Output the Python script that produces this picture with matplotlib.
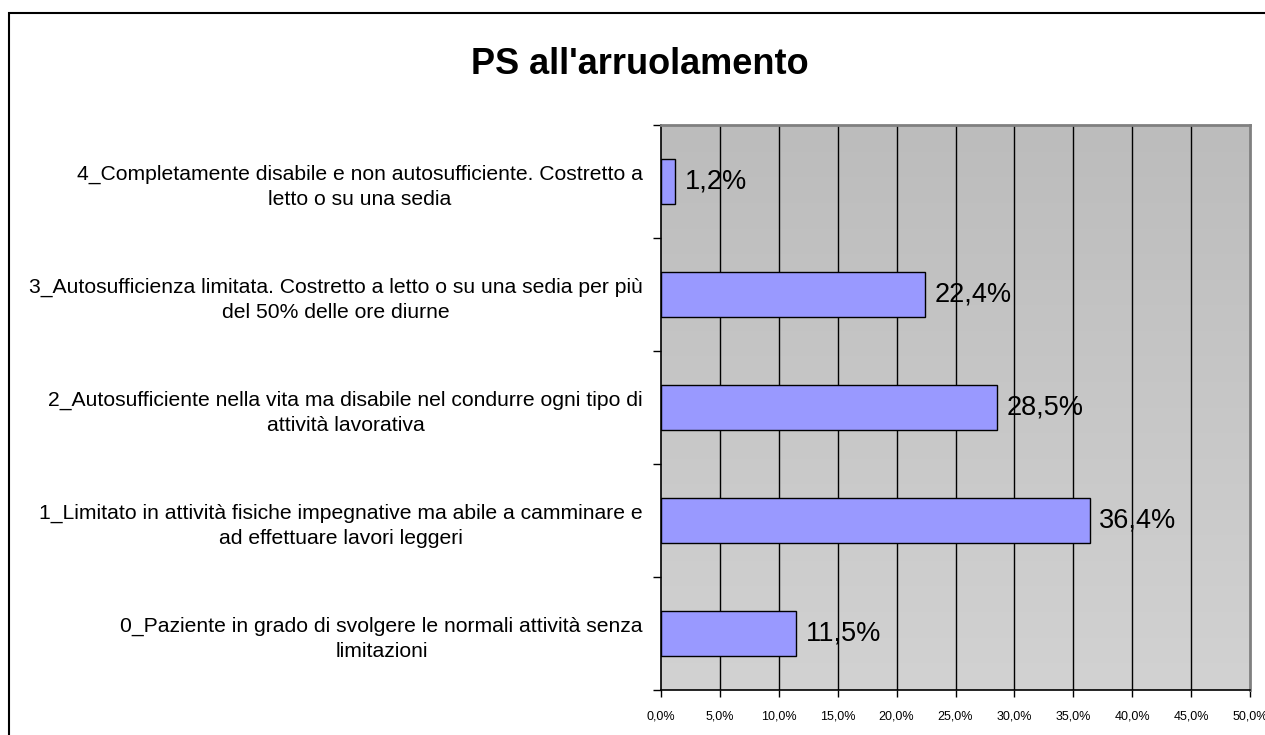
import matplotlib
matplotlib.use("Agg")
import matplotlib.pyplot as plt
import numpy as np
from matplotlib.patches import Rectangle

plt.rcParams['font.family'] = ['Liberation Sans', 'DejaVu Sans']

categories = [
    "0_Paziente in grado di svolgere le normali attività senza\nlimitazioni",
    "1_Limitato in attività fisiche impegnative ma abile a camminare e\nad effettuare lavori leggeri",
    "2_Autosufficiente nella vita ma disabile nel condurre ogni tipo di\nattività lavorativa",
    "3_Autosufficienza limitata. Costretto a letto o su una sedia per più\ndel 50% delle ore diurne",
    "4_Completamente disabile e non autosufficiente. Costretto a\nletto o su una sedia",
]
values = [11.5, 36.4, 28.5, 22.4, 1.2]
value_labels = ["11,5%", "36,4%", "28,5%", "22,4%", "1,2%"]
xticks = [0, 5, 10, 15, 20, 25, 30, 35, 40, 45, 50]
xtick_labels = ["0,0%", "5,0%", "10,0%", "15,0%", "20,0%", "25,0%", "30,0%",
                "35,0%", "40,0%", "45,0%", "50,0%"]
title = "PS all'arruolamento"

W, H = 1265, 735
fig = plt.figure(figsize=(W / 100, H / 100), dpi=100)
fig.patch.set_facecolor('white')

# outer chart border
fig.patches.append(Rectangle((9 / W, -0.1), 1.2, (H - 13) / H + 0.1,
                             transform=fig.transFigure, fill=False,
                             edgecolor='black', linewidth=1.5, zorder=0))

ax = fig.add_axes([661 / W, 1 - 690 / H, (1250 - 661) / W, (690 - 125) / H])
ax.set_xlim(0, 50)
ax.set_ylim(-0.5, len(categories) - 0.5)

# gradient background
grad = np.linspace(0, 1, 256).reshape(-1, 1)
ax.imshow(grad, extent=[0, 50, -0.5, len(categories) - 0.5], aspect='auto',
          cmap=matplotlib.colors.LinearSegmentedColormap.from_list(
              'g', ['#d2d2d2', '#bcbcbc']),
          origin='lower', zorder=0)

for x in xticks[1:-1]:
    ax.axvline(x, color='black', linewidth=1.0, zorder=1)

y = np.arange(len(categories))
ax.barh(y, values, height=0.4, color='#9999ff', edgecolor='black',
        linewidth=1.0, zorder=2)

for yi, v, lab in zip(y, values, value_labels):
    ax.text(v + 0.8, yi, lab, va='center', ha='left', fontsize=19.5, zorder=3)

ax.set_yticks(np.arange(-0.5, len(categories), 1.0))
ax.set_yticklabels([])
ax.set_yticks(y, minor=True)
ax.set_yticklabels(categories, minor=True, fontsize=15.2,
                   multialignment='center', linespacing=1.4)
ax.tick_params(axis='y', which='minor', length=0, pad=13)
ax.tick_params(axis='y', which='major', length=6, direction='out', width=1)

ax.set_xticks(xticks)
ax.set_xticklabels(xtick_labels, fontsize=9)
ax.tick_params(axis='x', length=5, direction='out', width=1, pad=10)

for s in ['left', 'bottom']:
    ax.spines[s].set_color('black')
    ax.spines[s].set_linewidth(1.2)
for s in ['top', 'right']:
    ax.spines[s].set_color('#808080')
    ax.spines[s].set_linewidth(2)

fig.text(640 / W, 1 - 64 / H, title, ha='center', va='center',
         fontsize=26, fontweight='bold')

fig.savefig('out.png', dpi=100)
